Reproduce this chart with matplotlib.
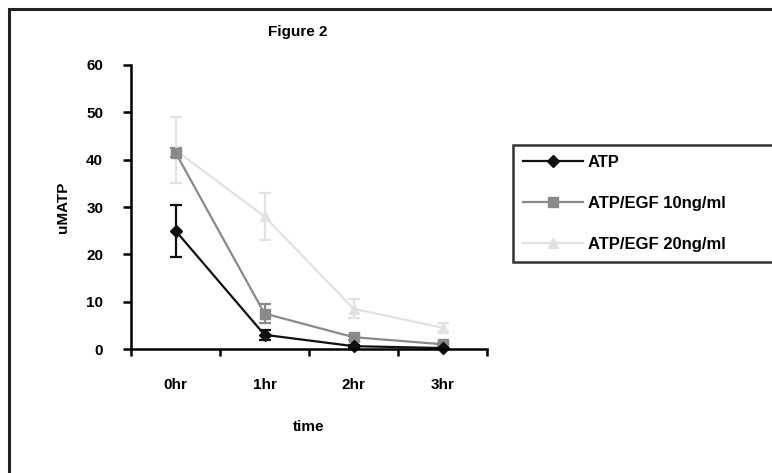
import matplotlib

matplotlib.use("Agg")
import matplotlib.pyplot as plt
from matplotlib.lines import Line2D
from matplotlib.patches import Rectangle

plt.rcParams["font.family"] = ["Liberation Sans", "DejaVu Sans"]
plt.rcParams["font.weight"] = "bold"
plt.rcParams["axes.labelweight"] = "bold"

# 数据
times = ["0hr", "1hr", "2hr", "3hr"]
series_names = ["ATP", "ATP/EGF 10ng/ml", "ATP/EGF 20ng/ml"]
atp = [25, 3, 0.6, 0.2]
atp_err = [5.5, 1.0, 0.3, 0.1]
egf10 = [41.5, 7.5, 2.5, 1.0]
egf10_err = [1.0, 2.0, 0.5, 0.3]
egf20 = [42, 28, 8.5, 4.5]
egf20_err = [7.0, 5.0, 2.0, 1.0]

styles = [
    dict(color="#111111", marker="D", ms=6),
    dict(color="#8a8a8a", marker="s", ms=7),
    dict(color="#e2e2e2", marker="^", ms=7),
]

fig = plt.figure(figsize=(7.72, 4.73), dpi=100)
ax = fig.add_axes([131 / 772, 1 - 349 / 473, 356 / 772, 284 / 473])

xs = [i + 0.5 for i in range(len(times))]
all_vals = [atp, egf10, egf20]
all_errs = [atp_err, egf10_err, egf20_err]
# 先画浅色，再画深色
for vals, errs, st in zip(all_vals[::-1], all_errs[::-1], styles[::-1]):
    ax.errorbar(xs, vals, yerr=errs, color=st["color"], marker=st["marker"],
                ms=st["ms"], lw=1.6, elinewidth=1.6, capsize=4, capthick=1.6,
                clip_on=False)

handles = [Line2D([], [], color=st["color"], marker=st["marker"], ms=st["ms"], lw=1.6)
           for st in styles]

ax.set_xlim(0, 4)
ax.set_ylim(0, 60)
ax.set_yticks(range(0, 61, 10))
ax.set_xticks(range(0, 5))
ax.set_xticklabels([])
ax.set_xticks(xs, minor=True)
ax.set_xticklabels(times, minor=True)
ax.tick_params(axis="x", which="minor", length=0, pad=21, labelsize=11)
ax.tick_params(axis="x", which="major", direction="out", length=5, width=1.8)
ax.tick_params(axis="y", direction="out", length=6, width=1.8, labelsize=11, pad=14)
for s in ["top", "right"]:
    ax.spines[s].set_visible(False)
for s in ["left", "bottom"]:
    ax.spines[s].set_linewidth(1.8)

ax.set_xlabel("time", fontsize=11, labelpad=20)
ax.set_ylabel("uMATP", fontsize=11, labelpad=12)
fig.text(298 / 772, 1 - 32 / 473, "Figure 2", ha="center", va="center", fontsize=11)

leg = fig.legend(handles, series_names, loc="upper left",
                 bbox_to_anchor=(513 / 772, 1 - 145 / 473, 0.5, 0.0), mode="expand",
                 fontsize=12, frameon=True, fancybox=False, labelspacing=1.55,
                 handlelength=3.6, handletextpad=0.3, borderpad=0.6, borderaxespad=0)
leg.get_frame().set_edgecolor("black")
leg.get_frame().set_linewidth(1.8)

fig.patches.append(Rectangle((9 / 772, -0.1), 1.2, 1 - 9 / 473 + 0.1,
                             transform=fig.transFigure, fill=False,
                             edgecolor="#222222", lw=2.2))

fig.savefig("out.png", dpi=100)
